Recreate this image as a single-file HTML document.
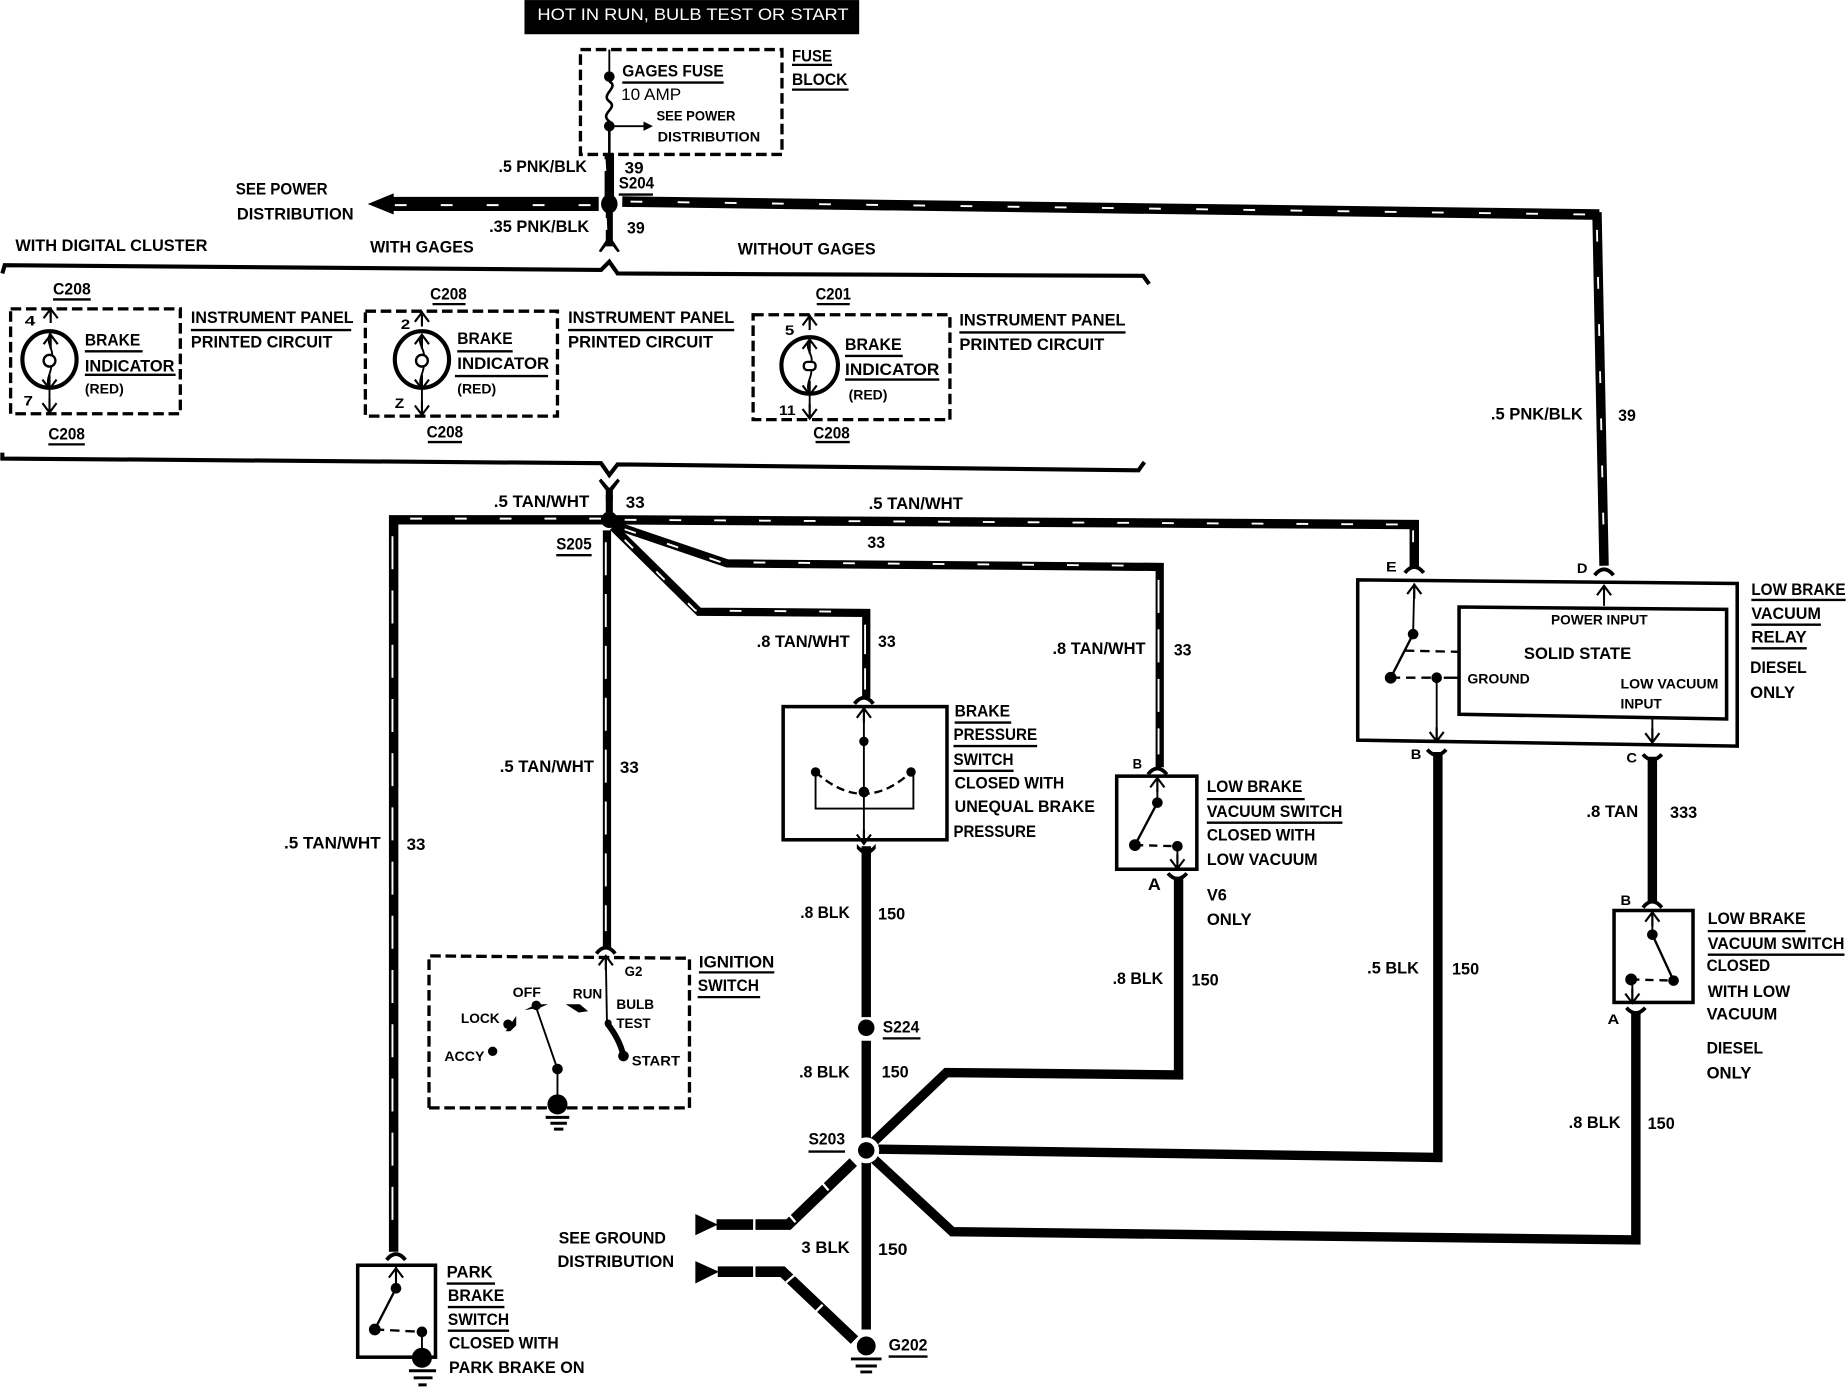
<!DOCTYPE html>
<html lang="en"><head><meta charset="utf-8"><title>Brake indicator wiring diagram</title>
<style>
html,body{margin:0;padding:0;background:#fff;width:1848px;height:1392px;overflow:hidden}
svg{display:block}
text{font-family:"Liberation Sans",sans-serif;font-weight:700;font-size:14px;fill:#000}
.s{font-size:12px}
.w{stroke:#000;fill:none;stroke-linejoin:miter}
.st{stroke:#fff;fill:none;stroke-width:1.6;stroke-dasharray:10 30}
.t{stroke:#000;fill:none;stroke-width:1.6}
.d{stroke:#000;fill:none;stroke-width:2.8;stroke-dasharray:9 4}
.u{stroke:#000;stroke-width:2;fill:none}
.b{stroke:#000;fill:none;stroke-width:3}
.g{stroke:#000;stroke-width:2.5;fill:none}
</style></head><body>
<svg xmlns="http://www.w3.org/2000/svg" width="1848" height="1392" viewBox="0 0 1568 1181">
<defs>
<path id="up" d="M-6,8L0,0L6,8M0,0V12" fill="none" stroke="#000" stroke-width="1.8"/>
<path id="dn" d="M-6,-8L0,0L6,-8M0,0V-12" fill="none" stroke="#000" stroke-width="1.8"/>
<path id="ca" d="M-8,4Q0,-6 8,4" fill="none" stroke="#000" stroke-width="3.2"/>
<path id="cy" d="M-8,-4Q0,5 8,-4" fill="none" stroke="#000" stroke-width="3.2"/>
</defs>

<!-- banner -->
<rect x="445" y="0" width="284" height="29" fill="#000"/>
<text x="456" y="17" textLength="264" lengthAdjust="spacingAndGlyphs" style="fill:#fff;font-weight:400">HOT IN RUN, BULB TEST OR START</text>

<!-- fuse block -->
<rect x="492.5" y="42" width="171" height="89" class="d"/>
<path class="t" d="M517,42V65"/>
<path class="t" style="stroke-width:2.2" d="M517,69C526,74 509,80 517,86C525,92 508,96 517,103V131"/>
<circle cx="517" cy="65" r="4.5"/><circle cx="517" cy="107" r="4.5"/>
<path class="t" d="M517,107H548"/><path d="M546,103L554,107L546,111Z"/>
<text x="528" y="65" textLength="86" lengthAdjust="spacingAndGlyphs">GAGES FUSE</text><path class="u" d="M528,70H614"/>
<text x="527" y="85" textLength="51" lengthAdjust="spacingAndGlyphs" style="font-weight:400">10 AMP</text>
<text class="s" x="557" y="102" textLength="67" lengthAdjust="spacingAndGlyphs">SEE POWER</text>
<text class="s" x="558" y="120" textLength="87" lengthAdjust="spacingAndGlyphs">DISTRIBUTION</text>
<text x="672" y="52" textLength="34" lengthAdjust="spacingAndGlyphs">FUSE</text><path class="u" d="M672,55H706"/>
<text x="672" y="72" textLength="47" lengthAdjust="spacingAndGlyphs">BLOCK</text><path class="u" d="M672,76H720"/>

<!-- 39 wires -->
<path class="w" stroke-width="8" d="M517,130V172"/>
<path class="st" d="M513,135L515,165"/>
<text x="423" y="146" textLength="75" lengthAdjust="spacingAndGlyphs">.5 PNK/BLK</text>
<text x="530" y="147" textLength="16" lengthAdjust="spacingAndGlyphs">39</text>
<text x="525" y="160" textLength="30" lengthAdjust="spacingAndGlyphs">S204</text><path class="u" d="M525,165H554"/>
<path class="w" stroke-width="12" d="M332,173H508"/>
<path d="M312,173L334,164V182Z"/>
<path class="st" stroke-width="2" d="M335,174H512" style="stroke-dasharray:10 29"/>
<path class="w" stroke-width="9" d="M528,171L1357,182"/>
<path class="st" d="M535,171L1350,182"/>
<path class="w" stroke-width="8" d="M1355,180L1361,480"/>
<path class="st" d="M1355,195L1361,470"/>
<ellipse cx="517" cy="173" rx="7" ry="8"/>
<path class="w" stroke-width="6" d="M517,180V209"/>
<path class="st" d="M514,185L515,205"/>
<path d="M517,205L510,214L508,213L514,204Z"/><path d="M517,205L524,214L526,213L520,204Z"/>
<text x="415" y="197" textLength="85" lengthAdjust="spacingAndGlyphs">.35 PNK/BLK</text>
<text x="532" y="198" textLength="15" lengthAdjust="spacingAndGlyphs">39</text>
<text x="200" y="165" textLength="78" lengthAdjust="spacingAndGlyphs">SEE POWER</text>
<text x="201" y="186" textLength="99" lengthAdjust="spacingAndGlyphs">DISTRIBUTION</text>
<text x="13" y="213" textLength="163" lengthAdjust="spacingAndGlyphs">WITH DIGITAL CLUSTER</text>
<text x="314" y="214" textLength="88" lengthAdjust="spacingAndGlyphs">WITH GAGES</text>
<text x="626" y="216" textLength="117" lengthAdjust="spacingAndGlyphs">WITHOUT GAGES</text>

<!-- brackets -->
<path class="w" stroke-width="3.5" d="M2,232L4,225L510,229L517,222L524,232L970,234L975,241"/>
<path class="w" stroke-width="3.5" d="M2,384V389L510,393L517,403L524,394L966,399L971,392"/>

<!-- cluster 1 -->
<rect x="9" y="262" width="144" height="89" class="d"/>
<ellipse cx="42" cy="305" rx="23" ry="24" class="w" stroke-width="3.5"/>
<path class="t" d="M43,262V270M43,282C37,292 49,298 42,306C47,314 37,320 42,330V350"/>
<use href="#up" x="43" y="262"/>
<use href="#up" x="43" y="284"/><use href="#dn" x="42" y="330"/><use href="#dn" x="42" y="350"/>
<circle cx="42" cy="306" r="5" fill="#fff" stroke="#000" stroke-width="2"/>
<text class="s" x="21" y="276" textLength="9" lengthAdjust="spacingAndGlyphs">4</text>
<text class="s" x="20" y="344" textLength="8" lengthAdjust="spacingAndGlyphs">7</text>
<text x="45" y="250" textLength="32" lengthAdjust="spacingAndGlyphs">C208</text><path class="u" d="M45,254H77"/>
<text x="41" y="373" textLength="31" lengthAdjust="spacingAndGlyphs">C208</text><path class="u" d="M41,377H72"/>
<text x="72" y="293" textLength="47" lengthAdjust="spacingAndGlyphs">BRAKE</text><path class="u" d="M72,298H121"/>
<text x="72" y="315" textLength="76" lengthAdjust="spacingAndGlyphs">INDICATOR</text><path class="u" d="M72,318H149"/>
<text class="s" x="72" y="334" textLength="33" lengthAdjust="spacingAndGlyphs">(RED)</text>
<text x="162" y="274" textLength="138" lengthAdjust="spacingAndGlyphs">INSTRUMENT PANEL</text><path class="u" d="M162,280H298"/>
<text x="162" y="295" textLength="120" lengthAdjust="spacingAndGlyphs">PRINTED CIRCUIT</text>

<!-- cluster 2 -->
<rect x="310" y="264" width="163" height="89" class="d"/>
<ellipse cx="358" cy="305" rx="23" ry="24" class="w" stroke-width="3.5"/>
<path class="t" d="M358,264V272M358,284C352,292 364,298 358,306C363,314 353,320 358,330V352"/>
<use href="#up" x="358" y="265"/><use href="#up" x="358" y="284"/><use href="#dn" x="358" y="330"/><use href="#dn" x="358" y="352"/>
<circle cx="358" cy="306" r="5" fill="#fff" stroke="#000" stroke-width="2"/>
<text class="s" x="340" y="279" textLength="8" lengthAdjust="spacingAndGlyphs">2</text>
<text class="s" x="335" y="346" textLength="8" lengthAdjust="spacingAndGlyphs">Z</text>
<text x="365" y="254" textLength="31" lengthAdjust="spacingAndGlyphs">C208</text><path class="u" d="M367,258H395"/>
<text x="362" y="371" textLength="31" lengthAdjust="spacingAndGlyphs">C208</text><path class="u" d="M363,375H392"/>
<text x="388" y="292" textLength="47" lengthAdjust="spacingAndGlyphs">BRAKE</text><path class="u" d="M388,298H435"/>
<text x="388" y="313" textLength="78" lengthAdjust="spacingAndGlyphs">INDICATOR</text><path class="u" d="M386,319H465"/>
<text class="s" x="388" y="334" textLength="33" lengthAdjust="spacingAndGlyphs">(RED)</text>
<text x="482" y="274" textLength="141" lengthAdjust="spacingAndGlyphs">INSTRUMENT PANEL</text><path class="u" d="M482,280H623"/>
<text x="482" y="295" textLength="123" lengthAdjust="spacingAndGlyphs">PRINTED CIRCUIT</text>

<!-- cluster 3 -->
<rect x="639" y="267" width="167" height="89" class="d"/>
<ellipse cx="687" cy="310" rx="24" ry="24" class="w" stroke-width="3.5"/>
<path class="t" d="M687,267V276M687,288C681,296 693,302 687,310C692,318 682,324 687,334V355"/>
<use href="#up" x="687" y="268"/><use href="#up" x="687" y="288"/><use href="#dn" x="687" y="335"/><use href="#dn" x="687" y="355"/>
<rect x="682" y="307" width="10" height="7" rx="3" fill="#fff" stroke="#000" stroke-width="2"/>
<text class="s" x="666" y="284" textLength="8" lengthAdjust="spacingAndGlyphs">5</text>
<text class="s" x="661" y="352" textLength="14" lengthAdjust="spacingAndGlyphs">11</text>
<text x="692" y="254" textLength="30" lengthAdjust="spacingAndGlyphs">C201</text><path class="u" d="M693,258H721"/>
<text x="690" y="372" textLength="31" lengthAdjust="spacingAndGlyphs">C208</text><path class="u" d="M692,375H721"/>
<text x="717" y="297" textLength="48" lengthAdjust="spacingAndGlyphs">BRAKE</text><path class="u" d="M717,302H766"/>
<text x="717" y="318" textLength="80" lengthAdjust="spacingAndGlyphs">INDICATOR</text><path class="u" d="M717,322H797"/>
<text class="s" x="720" y="339" textLength="33" lengthAdjust="spacingAndGlyphs">(RED)</text>
<text x="814" y="276" textLength="141" lengthAdjust="spacingAndGlyphs">INSTRUMENT PANEL</text><path class="u" d="M814,282H955"/>
<text x="814" y="297" textLength="123" lengthAdjust="spacingAndGlyphs">PRINTED CIRCUIT</text>

<!-- 33 wires -->
<path d="M510,406L517,414L524,406L526,408L520,416V425H514V416L508,408Z"/>
<path class="w" stroke-width="6" d="M517,420V440"/>
<path class="w" stroke-width="8" d="M517,441H334V1062"/>
<path class="st" d="M510,440H336" style="stroke-dasharray:10 28"/>
<path class="st" d="M333,455V1050" style="stroke-dasharray:28 18"/>
<path class="w" stroke-width="8" d="M517,441L1200,445V481"/>
<path class="st" d="M530,441L1190,445" style="stroke-dasharray:10 28"/>
<path class="st" d="M1199,450V474"/>
<path class="w" stroke-width="7" d="M520,445L617,478L984,481V651"/>
<path class="st" d="M530,449L612,477L975,480" style="stroke-dasharray:10 28"/>
<path class="st" d="M983,492V640" style="stroke-dasharray:28 14"/>
<path class="w" stroke-width="7" d="M520,447L593,519L735,520V592"/>
<path class="st" d="M530,458L590,518L730,519" style="stroke-dasharray:10 28"/>
<path class="st" d="M734,530V585" style="stroke-dasharray:25 12"/>
<path class="w" stroke-width="7" d="M515,450V804"/>
<path class="st" d="M514,460V790" style="stroke-dasharray:28 16"/>
<circle cx="517" cy="441" r="7"/>
<text x="419" y="430" textLength="81" lengthAdjust="spacingAndGlyphs">.5 TAN/WHT</text>
<text x="531" y="431" textLength="16" lengthAdjust="spacingAndGlyphs">33</text>
<text x="737" y="432" textLength="80" lengthAdjust="spacingAndGlyphs">.5 TAN/WHT</text>
<text x="736" y="465" textLength="15" lengthAdjust="spacingAndGlyphs">33</text>
<text x="472" y="466" textLength="30" lengthAdjust="spacingAndGlyphs">S205</text><path class="u" d="M472,471H502"/>
<text x="424" y="655" textLength="80" lengthAdjust="spacingAndGlyphs">.5 TAN/WHT</text>
<text x="526" y="656" textLength="16" lengthAdjust="spacingAndGlyphs">33</text>
<text x="241" y="720" textLength="82" lengthAdjust="spacingAndGlyphs">.5 TAN/WHT</text>
<text x="345" y="721" textLength="16" lengthAdjust="spacingAndGlyphs">33</text>
<text x="642" y="549" textLength="79" lengthAdjust="spacingAndGlyphs">.8 TAN/WHT</text>
<text x="745" y="549" textLength="15" lengthAdjust="spacingAndGlyphs">33</text>
<text x="893" y="555" textLength="79" lengthAdjust="spacingAndGlyphs">.8 TAN/WHT</text>
<text x="996" y="556" textLength="15" lengthAdjust="spacingAndGlyphs">33</text>

<!-- brake pressure switch -->
<use href="#ca" x="733" y="593"/>
<rect x="664.5" y="599.5" width="139" height="113" class="b"/>
<path class="t" d="M733,600V716"/><use href="#up" x="733" y="601"/><use href="#dn" x="733" y="716"/>
<circle cx="733" cy="629" r="4"/><circle cx="733" cy="672" r="4.5"/><circle cx="692" cy="655" r="4"/><circle cx="773" cy="655" r="4"/>
<path class="t" d="M692,655V686H775V655"/>
<path d="M692,655Q733,692 773,655" fill="none" stroke="#000" stroke-width="2" stroke-dasharray="7 4"/>
<text x="810" y="608" textLength="47" lengthAdjust="spacingAndGlyphs">BRAKE</text><path class="u" d="M810,613H858"/>
<text x="809" y="628" textLength="71" lengthAdjust="spacingAndGlyphs">PRESSURE</text><path class="u" d="M809,633H880"/>
<text x="809" y="649" textLength="51" lengthAdjust="spacingAndGlyphs">SWITCH</text><path class="u" d="M809,654H860"/>
<text x="810" y="669" textLength="93" lengthAdjust="spacingAndGlyphs">CLOSED WITH</text>
<text x="810" y="689" textLength="119" lengthAdjust="spacingAndGlyphs">UNEQUAL BRAKE</text>
<text x="809" y="710" textLength="70" lengthAdjust="spacingAndGlyphs">PRESSURE</text>

<!-- 150 black center -->
<path class="w" stroke-width="8" d="M735,718V863M735,883V1128"/>
<path d="M727,716Q735,726 743,716L743,720Q735,730 727,720Z"/>
<circle cx="735" cy="872" r="7"/>
<text x="679" y="779" textLength="42" lengthAdjust="spacingAndGlyphs">.8 BLK</text>
<text x="745" y="780" textLength="23" lengthAdjust="spacingAndGlyphs">150</text>
<text x="749" y="876" textLength="31" lengthAdjust="spacingAndGlyphs">S224</text><path class="u" d="M749,881H781"/>
<text x="678" y="914" textLength="43" lengthAdjust="spacingAndGlyphs">.8 BLK</text>
<text x="748" y="914" textLength="23" lengthAdjust="spacingAndGlyphs">150</text>
<text x="686" y="971" textLength="31" lengthAdjust="spacingAndGlyphs">S203</text><path class="u" d="M686,977H717"/>
<text x="680" y="1063" textLength="41" lengthAdjust="spacingAndGlyphs">3 BLK</text>
<text x="745" y="1065" textLength="25" lengthAdjust="spacingAndGlyphs">150</text>

<!-- S203 branches -->
<path class="w" stroke-width="8" d="M740,970L803,910L1000,912V744"/>
<path class="w" stroke-width="8" d="M745,975L1220,982V638"/>
<path class="w" stroke-width="8" d="M740,982L808,1045L1388,1052V858"/>
<path class="w" stroke-width="9" d="M724,986L669,1039H608"/>
<path d="M590,1030L609,1039L590,1048Z"/>
<path class="w" stroke-width="9" d="M609,1079H664L725,1137"/>
<path d="M590,1070L610,1079L590,1089Z"/>
<path stroke="#fff" stroke-width="2" fill="none" d="M640,1032V1046M669,1030L675,1037M697,1003L703,1010M640,1072V1086M667,1088L674,1082M691,1114L698,1107"/>
<circle cx="735" cy="976" r="11" fill="#fff"/>
<circle cx="735" cy="976" r="7"/>
<text x="474" y="1055" textLength="91" lengthAdjust="spacingAndGlyphs">SEE GROUND</text>
<text x="473" y="1075" textLength="99" lengthAdjust="spacingAndGlyphs">DISTRIBUTION</text>

<!-- G202 -->
<circle cx="735" cy="1142" r="8"/>
<path class="g" d="M722,1153H748M726,1159H744M730,1164H740"/>
<text x="754" y="1146" textLength="33" lengthAdjust="spacingAndGlyphs">G202</text><path class="u" d="M754,1151H787"/>

<!-- ignition switch -->
<use href="#ca" x="514" y="805"/>
<path class="d" d="M364,940V811L585,813V940H364"/>
<path class="t" d="M514,811L515,868"/><use href="#up" x="514" y="811"/>
<path class="w" stroke-width="5" d="M515,868Q526,882 529,896"/>
<circle cx="516" cy="868" r="3"/><circle cx="529" cy="896" r="4.5"/>
<path class="t" d="M455,855L473,907V935"/>
<circle cx="455" cy="853" r="4"/><circle cx="473" cy="907" r="4.5"/>
<path d="M445,857L455,852H465L458,855Z"/><path d="M480,852H492L499,858L491,859Z"/>
<path d="M429,875L438,862L438,870L433,875Z"/><circle cx="431" cy="869" r="4"/><circle cx="418" cy="892" r="4"/>
<circle cx="473" cy="937" r="8.5"/>
<path class="g" d="M463,948H483M467,953H481M470,958H478"/>
<text class="s" x="435" y="846" textLength="24" lengthAdjust="spacingAndGlyphs">OFF</text>
<text class="s" x="486" y="847" textLength="25" lengthAdjust="spacingAndGlyphs">RUN</text>
<text class="s" x="530" y="828" textLength="15" lengthAdjust="spacingAndGlyphs">G2</text>
<text class="s" x="523" y="856" textLength="32" lengthAdjust="spacingAndGlyphs">BULB</text>
<text class="s" x="523" y="872" textLength="29" lengthAdjust="spacingAndGlyphs">TEST</text>
<text class="s" x="391" y="868" textLength="33" lengthAdjust="spacingAndGlyphs">LOCK</text>
<text class="s" x="377" y="900" textLength="34" lengthAdjust="spacingAndGlyphs">ACCY</text>
<text class="s" x="536" y="904" textLength="41" lengthAdjust="spacingAndGlyphs">START</text>
<text x="593" y="821" textLength="64" lengthAdjust="spacingAndGlyphs">IGNITION</text><path class="u" d="M593,825H657"/>
<text x="592" y="841" textLength="52" lengthAdjust="spacingAndGlyphs">SWITCH</text><path class="u" d="M592,846H645"/>

<!-- park brake switch -->
<use href="#ca" x="336" y="1065"/>
<rect x="303.5" y="1073.5" width="66" height="78" class="b"/>
<path class="t" d="M336,1075V1093"/><use href="#up" x="336" y="1076"/>
<circle cx="336" cy="1093" r="4.5"/><circle cx="318" cy="1128" r="5"/><circle cx="358" cy="1130" r="4.5"/>
<path class="t" d="M336,1093L318,1128" style="stroke-width:2"/>
<path d="M318,1128L358,1130" fill="none" stroke="#000" stroke-width="2" stroke-dasharray="8 5"/>
<path class="t" d="M358,1130V1150"/>
<circle cx="358" cy="1152" r="8.5"/>
<path class="g" d="M347,1163H370M351,1169H367M355,1175H362"/>
<text x="379" y="1084" textLength="39" lengthAdjust="spacingAndGlyphs">PARK</text><path class="u" d="M379,1089H420"/>
<text x="380" y="1104" textLength="48" lengthAdjust="spacingAndGlyphs">BRAKE</text><path class="u" d="M380,1109H428"/>
<text x="380" y="1124" textLength="52" lengthAdjust="spacingAndGlyphs">SWITCH</text><path class="u" d="M380,1129H432"/>
<text x="381" y="1144" textLength="93" lengthAdjust="spacingAndGlyphs">CLOSED WITH</text>
<text x="381" y="1165" textLength="115" lengthAdjust="spacingAndGlyphs">PARK BRAKE ON</text>

<!-- V6 switch -->
<use href="#ca" x="982" y="653"/>
<rect x="947.5" y="658.5" width="68" height="79" class="b"/>
<path class="t" d="M982,660V681"/><use href="#up" x="982" y="660"/>
<circle cx="982" cy="681" r="4.5"/><circle cx="963" cy="717" r="5"/><circle cx="999" cy="718" r="4.5"/>
<path class="t" style="stroke-width:2" d="M982,681L963,717"/>
<path d="M963,717L999,718" fill="none" stroke="#000" stroke-width="2" stroke-dasharray="7 5"/>
<path class="t" d="M999,718V737"/><use href="#dn" x="999" y="737"/>
<use href="#cy" x="999" y="745"/>
<text class="s" x="961" y="652" textLength="8" lengthAdjust="spacingAndGlyphs">B</text>
<text x="974" y="755" textLength="11" lengthAdjust="spacingAndGlyphs">A</text>
<text x="1024" y="672" textLength="81" lengthAdjust="spacingAndGlyphs">LOW BRAKE</text><path class="u" d="M1024,678H1107"/>
<text x="1024" y="693" textLength="115" lengthAdjust="spacingAndGlyphs">VACUUM SWITCH</text><path class="u" d="M1024,698H1139"/>
<text x="1024" y="713" textLength="92" lengthAdjust="spacingAndGlyphs">CLOSED WITH</text>
<text x="1024" y="734" textLength="94" lengthAdjust="spacingAndGlyphs">LOW VACUUM</text>
<text x="1024" y="764" textLength="17" lengthAdjust="spacingAndGlyphs">V6</text>
<text x="1024" y="785" textLength="38" lengthAdjust="spacingAndGlyphs">ONLY</text>
<text x="944" y="835" textLength="43" lengthAdjust="spacingAndGlyphs">.8 BLK</text>
<text x="1011" y="836" textLength="23" lengthAdjust="spacingAndGlyphs">150</text>

<!-- relay -->
<use href="#ca" x="1200" y="482"/><use href="#ca" x="1361" y="484"/>
<path class="b" d="M1152,492L1474,495V633L1152,628Z"/>
<path class="b" d="M1238,515L1465,517V610L1238,606Z"/>
<path class="t" d="M1200,495L1199,538"/><use href="#up" x="1200" y="496"/>
<circle cx="1199" cy="538" r="4.5"/><circle cx="1180" cy="575" r="5"/><circle cx="1219" cy="575" r="4.5"/>
<path class="t" style="stroke-width:2" d="M1199,538L1180,575"/>
<path d="M1180,575L1219,575M1192,552L1238,553" fill="none" stroke="#000" stroke-width="2" stroke-dasharray="8 5"/>
<path class="t" style="stroke-width:2" d="M1225,575H1238"/>
<path class="t" d="M1219,575V628"/><use href="#dn" x="1219" y="629"/>
<path class="t" d="M1361,497V514"/><use href="#up" x="1361" y="497"/>
<path class="t" d="M1402,610V630"/><use href="#dn" x="1402" y="630"/>
<use href="#cy" x="1219" y="640"/><use href="#cy" x="1402" y="644"/>
<text class="s" x="1176" y="485" textLength="9" lengthAdjust="spacingAndGlyphs">E</text>
<text class="s" x="1338" y="486" textLength="9" lengthAdjust="spacingAndGlyphs">D</text>
<text class="s" x="1197" y="644" textLength="9" lengthAdjust="spacingAndGlyphs">B</text>
<text class="s" x="1380" y="647" textLength="9" lengthAdjust="spacingAndGlyphs">C</text>
<text class="s" x="1316" y="530" textLength="82" lengthAdjust="spacingAndGlyphs">POWER INPUT</text>
<text x="1293" y="559" textLength="91" lengthAdjust="spacingAndGlyphs">SOLID STATE</text>
<text class="s" x="1245" y="580" textLength="53" lengthAdjust="spacingAndGlyphs">GROUND</text>
<text class="s" x="1375" y="584" textLength="83" lengthAdjust="spacingAndGlyphs">LOW VACUUM</text>
<text class="s" x="1375" y="601" textLength="35" lengthAdjust="spacingAndGlyphs">INPUT</text>
<text x="1486" y="505" textLength="80" lengthAdjust="spacingAndGlyphs">LOW BRAKE</text><path class="u" d="M1486,509H1566"/>
<text x="1486" y="525" textLength="59" lengthAdjust="spacingAndGlyphs">VACUUM</text><path class="u" d="M1486,530H1545"/>
<text x="1486" y="545" textLength="47" lengthAdjust="spacingAndGlyphs">RELAY</text><path class="u" d="M1486,550H1533"/>
<text x="1485" y="571" textLength="48" lengthAdjust="spacingAndGlyphs">DIESEL</text>
<text x="1485" y="592" textLength="38" lengthAdjust="spacingAndGlyphs">ONLY</text>
<text x="1265" y="356" textLength="78" lengthAdjust="spacingAndGlyphs">.5 PNK/BLK</text>
<text x="1373" y="357" textLength="15" lengthAdjust="spacingAndGlyphs">39</text>
<text x="1160" y="826" textLength="44" lengthAdjust="spacingAndGlyphs">.5 BLK</text>
<text x="1232" y="827" textLength="23" lengthAdjust="spacingAndGlyphs">150</text>

<!-- right switch -->
<path class="w" stroke-width="8" d="M1402,642V765"/>
<text x="1346" y="693" textLength="44" lengthAdjust="spacingAndGlyphs">.8 TAN</text>
<text x="1417" y="694" textLength="23" lengthAdjust="spacingAndGlyphs">333</text>
<use href="#ca" x="1402" y="766"/>
<rect x="1369.5" y="772.5" width="67" height="78" class="b"/>
<path class="t" d="M1402,774V793"/><use href="#up" x="1402" y="774"/>
<circle cx="1402" cy="793" r="4.5"/><circle cx="1384" cy="831" r="5"/><circle cx="1420" cy="832" r="4.5"/>
<path class="t" style="stroke-width:2" d="M1402,793L1420,832"/>
<path d="M1384,831L1420,832" fill="none" stroke="#000" stroke-width="2" stroke-dasharray="7 5"/>
<path class="t" d="M1385,832V851"/><use href="#dn" x="1385" y="851"/>
<use href="#cy" x="1388" y="859"/>
<text class="s" x="1375" y="768" textLength="9" lengthAdjust="spacingAndGlyphs">B</text>
<text class="s" x="1364" y="869" textLength="10" lengthAdjust="spacingAndGlyphs">A</text>
<text x="1449" y="784" textLength="83" lengthAdjust="spacingAndGlyphs">LOW BRAKE</text><path class="u" d="M1449,790H1532"/>
<text x="1449" y="805" textLength="116" lengthAdjust="spacingAndGlyphs">VACUUM SWITCH</text><path class="u" d="M1449,810H1565"/>
<text x="1448" y="824" textLength="54" lengthAdjust="spacingAndGlyphs">CLOSED</text>
<text x="1449" y="846" textLength="70" lengthAdjust="spacingAndGlyphs">WITH LOW</text>
<text x="1448" y="865" textLength="60" lengthAdjust="spacingAndGlyphs">VACUUM</text>
<text x="1448" y="894" textLength="48" lengthAdjust="spacingAndGlyphs">DIESEL</text>
<text x="1448" y="915" textLength="38" lengthAdjust="spacingAndGlyphs">ONLY</text>
<text x="1331" y="957" textLength="44" lengthAdjust="spacingAndGlyphs">.8 BLK</text>
<text x="1398" y="958" textLength="23" lengthAdjust="spacingAndGlyphs">150</text>
</svg>
</body></html>
